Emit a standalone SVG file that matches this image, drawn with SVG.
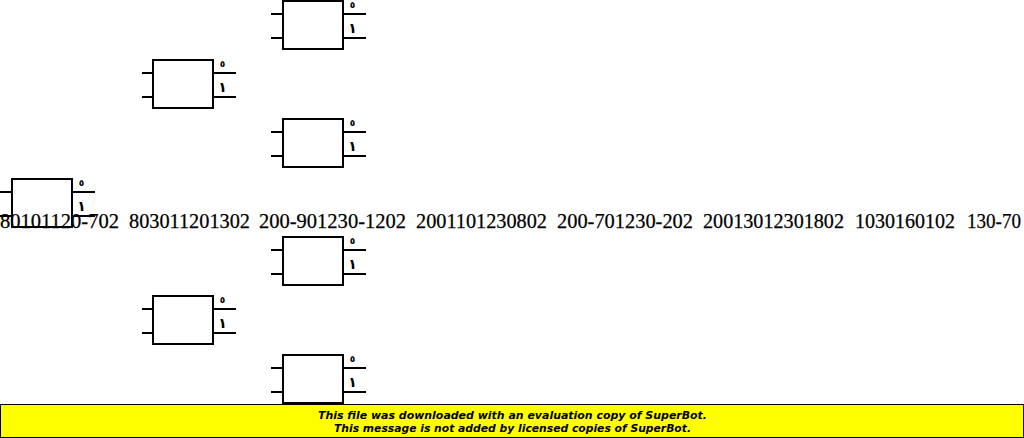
<svg xmlns="http://www.w3.org/2000/svg" width="1024" height="438" viewBox="0 0 1024 438">
<style>
.box{fill:#fff;stroke:#000;stroke-width:2}
.ln{fill:none;stroke:#000;stroke-width:2}
.d{font-family:"Noto Sans","DejaVu Sans",sans-serif;font-weight:bold;fill:#000;text-anchor:middle}
.t{font-family:"Liberation Serif",serif;font-size:21px;fill:#000;stroke:#000;stroke-width:.25}
.b{font-family:"DejaVu Sans",sans-serif;font-style:italic;font-weight:bold;font-size:11px;fill:#000;text-anchor:middle}
</style>
<defs>
<g id="gate">
<rect class="box" x="0" y="0" width="60" height="48"/>
<path class="ln" d="M60 13H83M60 37H83"/>
<text class="d" x="69.5" y="7" font-size="9">٥</text>
<text class="d" x="69.5" y="32" font-size="14">١</text>
</g>
<path id="stub12" class="ln" d="M-12 13H0M-12 37H0"/>
<path id="stub11" class="ln" d="M-11 13H0M-11 37H0"/>
</defs>
<rect width="1024" height="438" fill="#fff"/>
<g id="node-1"><use href="#stub12" x="283" y="1"/><use href="#gate" x="283" y="1"/></g>
<g id="node-2"><use href="#stub11" x="153" y="60"/><use href="#gate" x="153" y="60"/></g>
<g id="node-3"><use href="#stub12" x="283" y="119"/><use href="#gate" x="283" y="119"/></g>
<g id="node-4"><use href="#stub12" x="12" y="179"/><use href="#gate" x="12" y="179"/></g>
<g id="node-5"><use href="#stub12" x="283" y="237"/><use href="#gate" x="283" y="237"/></g>
<g id="node-6"><use href="#stub11" x="153" y="296"/><use href="#gate" x="153" y="296"/></g>
<g id="node-7"><use href="#stub12" x="283" y="355"/><use href="#gate" x="283" y="355"/></g>
<g id="connectors"></g>
<g id="labels">
<text class="t" x="0" y="227.5" textLength="119" lengthAdjust="spacingAndGlyphs">80101120-702</text>
<text class="t" x="129" y="227.5" textLength="121" lengthAdjust="spacingAndGlyphs">803011201302</text>
<text class="t" x="259" y="227.5" textLength="147" lengthAdjust="spacingAndGlyphs">200-901230-1202</text>
<text class="t" x="416" y="227.5" textLength="131" lengthAdjust="spacingAndGlyphs">2001101230802</text>
<text class="t" x="557" y="227.5" textLength="136" lengthAdjust="spacingAndGlyphs">200-701230-202</text>
<text class="t" x="703" y="227.5" textLength="141" lengthAdjust="spacingAndGlyphs">20013012301802</text>
<text class="t" x="855" y="227.5" textLength="100" lengthAdjust="spacingAndGlyphs">1030160102</text>
<text class="t" x="967" y="227.5" textLength="54" lengthAdjust="spacingAndGlyphs">130-70</text>
</g>
<g id="banner">
<rect x="0.5" y="404.5" width="1023" height="33" fill="#ff0" stroke="#000"/>
<text class="b" x="512.5" y="419" textLength="389" lengthAdjust="spacingAndGlyphs">This file was downloaded with an evaluation copy of SuperBot.</text>
<text class="b" x="512.5" y="432" textLength="357" lengthAdjust="spacingAndGlyphs">This message is not added by licensed copies of SuperBot.</text>
</g>
</svg>
